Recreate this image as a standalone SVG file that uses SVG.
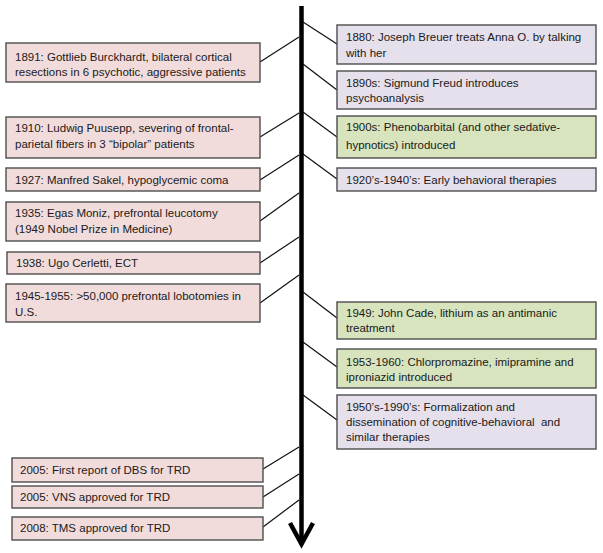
<svg xmlns="http://www.w3.org/2000/svg" width="603" height="553" viewBox="0 0 603 553">
<style>
  .box rect { stroke: #4d4d4d; stroke-width: 1.4; }
  .pink rect { fill: #f2dcdb; }
  .purple rect { fill: #e6e0ec; }
  .green rect { fill: #d7e4bd; }
  text { font-family: "Liberation Sans", Arial, sans-serif; font-size: 11.5px; fill: #1a1a1a; }
  .conn line { stroke: #111; stroke-width: 1.2; }
  .axis { stroke: #000; stroke-width: 4.5; fill: none; }
</style>
<rect width="603" height="553" fill="#ffffff"/>
<g id="connectors" class="conn">
  <line x1="260" y1="62" x2="299" y2="37"/>
  <line x1="260" y1="137" x2="299" y2="113"/>
  <line x1="260" y1="180" x2="299" y2="155"/>
  <line x1="260" y1="221" x2="299" y2="193"/>
  <line x1="260" y1="263" x2="299" y2="237"/>
  <line x1="260" y1="303" x2="299" y2="275"/>
  <line x1="263" y1="469" x2="299" y2="447"/>
  <line x1="263" y1="497" x2="299" y2="474"/>
  <line x1="263" y1="527" x2="299" y2="500"/>
  <line x1="303" y1="22" x2="337" y2="44"/>
  <line x1="303" y1="64" x2="337" y2="90"/>
  <line x1="303" y1="112" x2="337" y2="137"/>
  <line x1="303" y1="154" x2="337" y2="179"/>
  <line x1="303" y1="292" x2="337" y2="318"/>
  <line x1="303" y1="342" x2="337" y2="367"/>
  <line x1="303" y1="395" x2="337" y2="420"/>
</g>
<g id="axis">
  <line class="axis" x1="301.5" y1="6" x2="301.5" y2="543"/>
  <polyline class="axis" points="290,523 301.5,544 313,523" stroke-linejoin="miter"/>
</g>
<g id="n1891" class="box pink">
  <rect x="6" y="43" width="254" height="39"/>
  <text x="15" y="61">1891: Gottlieb Burckhardt, bilateral cortical</text>
  <text x="15" y="76">resections in 6 psychotic, aggressive patients</text>
</g>
<g id="n1910" class="box pink">
  <rect x="6" y="117" width="254" height="41"/>
  <text x="15" y="132">1910: Ludwig Puusepp, severing of frontal-</text>
  <text x="15" y="148">parietal fibers in 3 “bipolar” patients</text>
</g>
<g id="n1927" class="box pink">
  <rect x="6" y="168" width="254" height="23"/>
  <text x="15" y="184">1927: Manfred Sakel, hypoglycemic coma</text>
</g>
<g id="n1935" class="box pink">
  <rect x="6" y="202" width="254" height="39"/>
  <text x="15" y="217">1935: Egas Moniz, prefrontal leucotomy</text>
  <text x="15" y="233">(1949 Nobel Prize in Medicine)</text>
</g>
<g id="n1938" class="box pink">
  <rect x="7" y="252" width="253" height="22"/>
  <text x="16" y="267">1938: Ugo Cerletti, ECT</text>
</g>
<g id="n1945" class="box pink">
  <rect x="6" y="284" width="254" height="38"/>
  <text x="15" y="300">1945-1955: &gt;50,000 prefrontal lobotomies in</text>
  <text x="15" y="316">U.S.</text>
</g>
<g id="n2005dbs" class="box pink">
  <rect x="12" y="458" width="251" height="24"/>
  <text x="20" y="474">2005: First report of DBS for TRD</text>
</g>
<g id="n2005vns" class="box pink">
  <rect x="12" y="486" width="251" height="22"/>
  <text x="20" y="501">2005: VNS approved for TRD</text>
</g>
<g id="n2008tms" class="box pink">
  <rect x="12" y="517" width="251" height="23"/>
  <text x="20" y="532">2008: TMS approved for TRD</text>
</g>
<g id="n1880" class="box purple">
  <rect x="337" y="25" width="259" height="39"/>
  <text x="346" y="41">1880: Joseph Breuer treats Anna O. by talking</text>
  <text x="346" y="57">with her</text>
</g>
<g id="n1890s" class="box purple">
  <rect x="337" y="71" width="259" height="38"/>
  <text x="346" y="87">1890s: Sigmund Freud introduces</text>
  <text x="346" y="102">psychoanalysis</text>
</g>
<g id="n1900s" class="box green">
  <rect x="337" y="116" width="259" height="42"/>
  <text x="346" y="131">1900s: Phenobarbital (and other sedative-</text>
  <text x="346" y="149">hypnotics) introduced</text>
</g>
<g id="n1920s" class="box purple">
  <rect x="337" y="168" width="259" height="23"/>
  <text x="346" y="184">1920’s-1940’s: Early behavioral therapies</text>
</g>
<g id="n1949" class="box green">
  <rect x="337" y="302" width="259" height="37"/>
  <text x="346" y="317">1949: John Cade, lithium as an antimanic</text>
  <text x="346" y="332">treatment</text>
</g>
<g id="n1953" class="box green">
  <rect x="337" y="349" width="259" height="39"/>
  <text x="346" y="366">1953-1960: Chlorpromazine, imipramine and</text>
  <text x="346" y="381">iproniazid introduced</text>
</g>
<g id="n1950s" class="box purple">
  <rect x="337" y="395" width="259" height="54"/>
  <text x="346" y="411">1950’s-1990’s: Formalization and</text>
  <text x="346" y="426" xml:space="preserve">dissemination of cognitive-behavioral  and</text>
  <text x="346" y="441">similar therapies</text>
</g>
</svg>
